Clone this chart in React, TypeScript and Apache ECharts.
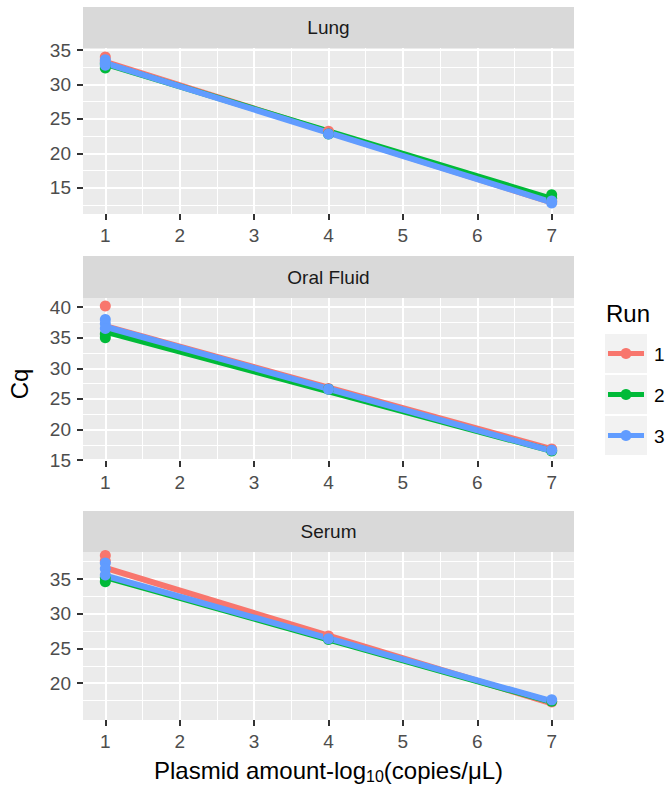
import React, { useEffect, useRef } from "react";
import * as echarts from "echarts";

// ---- data ----
const panelNames = ["Lung", "Oral Fluid", "Serum"];
const runNames = ["1", "2", "3"];
const runColors = ["#F8766D", "#00BA38", "#619CFF"];

const xBreaks = [1, 2, 3, 4, 5, 6, 7];
const xMinor = [1.5, 2.5, 3.5, 4.5, 5.5, 6.5];

const lungYBreaks = [15, 20, 25, 30, 35];
const lungYMinor = [12.5, 17.5, 22.5, 27.5, 32.5];
const oralYBreaks = [15, 20, 25, 30, 35, 40];
const oralYMinor = [17.5, 22.5, 27.5, 32.5, 37.5];
const serumYBreaks = [20, 25, 30, 35];
const serumYMinor = [17.5, 22.5, 27.5, 32.5, 37.5];

// points [log10 amount, Cq]
const lungRun1 = [[1, 34.0], [1, 33.4], [4, 23.2], [7, 13.0]];
const lungRun2 = [[1, 32.4], [1, 33.0], [4, 22.8], [7, 14.0], [7, 13.5]];
const lungRun3 = [[1, 33.6], [1, 32.8], [1, 33.2], [4, 22.8], [7, 12.8], [7, 13.1]];
const lungFit1 = [[1, 33.3], [7, 12.9]];
const lungFit2 = [[1, 33.0], [7, 13.4]];
const lungFit3 = [[1, 33.1], [7, 12.9]];

const oralRun1 = [[1, 40.2], [4, 26.7], [7, 16.8]];
const oralRun2 = [[1, 35.0], [1, 35.6], [4, 26.6], [7, 16.5]];
const oralRun3 = [[1, 38.0], [1, 37.3], [1, 36.5], [4, 26.6], [7, 16.6]];
const oralFit1 = [[1, 36.9], [7, 16.8]];
const oralFit2 = [[1, 36.0], [7, 16.5]];
const oralFit3 = [[1, 36.8], [7, 16.5]];

const serumRun1 = [[1, 38.4], [1, 37.6], [4, 26.8], [7, 17.3]];
const serumRun2 = [[1, 34.6], [1, 35.2], [4, 26.3], [7, 17.4]];
const serumRun3 = [[1, 37.3], [1, 36.5], [1, 35.6], [4, 26.4], [7, 17.6]];
const serumFit1 = [[1, 36.6], [7, 17.1]];
const serumFit2 = [[1, 35.3], [7, 17.3]];
const serumFit3 = [[1, 35.5], [7, 17.4]];

const xRange = [0.7, 7.3];
const lungYRange = [11.2, 35.3];
const oralYRange = [14.85, 41.5];
const serumYRange = [14.7, 38.9];

// ---- layout ----
const FONT = "Liberation Sans, Arial, Helvetica, sans-serif";
const GRID_LEFT = 83;
const GRID_WIDTH = 491;
const panelsLayout = [
  { stripTop: 7, top: 48, height: 166 },
  { stripTop: 256, top: 298, height: 163 },
  { stripTop: 511, top: 552, height: 168 },
];

export default function App() {
  const ref = useRef<HTMLDivElement>(null);

  useEffect(() => {
    if (!ref.current) return;
    const chart = echarts.init(ref.current, null, { renderer: "svg" });

    const points = [
      [lungRun1, lungRun2, lungRun3],
      [oralRun1, oralRun2, oralRun3],
      [serumRun1, serumRun2, serumRun3],
    ];
    const fits = [
      [lungFit1, lungFit2, lungFit3],
      [oralFit1, oralFit2, oralFit3],
      [serumFit1, serumFit2, serumFit3],
    ];
    const yBreaks = [lungYBreaks, oralYBreaks, serumYBreaks];
    const yMinor = [lungYMinor, oralYMinor, serumYMinor];
    const yRanges = [lungYRange, oralYRange, serumYRange];

    const grids: any[] = [];
    const xAxes: any[] = [];
    const yAxes: any[] = [];
    const series: any[] = [];
    const graphics: any[] = [];

    panelsLayout.forEach((p, i) => {
      grids.push({
        left: GRID_LEFT,
        top: p.top,
        width: GRID_WIDTH,
        height: p.height,
        show: true,
        backgroundColor: "#EBEBEB",
        borderWidth: 0,
      });
      // minor axes (index 2i), major axes (index 2i+1)
      xAxes.push({
        type: "value",
        gridIndex: i,
        position: "bottom",
        offset: 0,
        min: xRange[0],
        max: xRange[1],
        axisLine: { show: false },
        axisTick: { show: false, customValues: xMinor },
        axisLabel: { show: false, customValues: xMinor },
        splitLine: { show: true, lineStyle: { color: "#FFFFFF", width: 1 } },
      });
      xAxes.push({
        type: "value",
        gridIndex: i,
        position: "bottom",
        offset: 0,
        min: xRange[0],
        max: xRange[1],
        axisLine: { show: false },
        axisTick: {
          show: true,
          customValues: xBreaks,
          length: 6,
          lineStyle: { color: "#333333", width: 2 },
        },
        axisLabel: {
          show: true,
          customValues: xBreaks,
          color: "#4D4D4D",
          fontSize: 19,
          fontFamily: FONT,
          margin: 12,
        },
        splitLine: { show: true, lineStyle: { color: "#FFFFFF", width: 2 } },
      });
      yAxes.push({
        type: "value",
        gridIndex: i,
        position: "left",
        offset: 0,
        min: yRanges[i][0],
        max: yRanges[i][1],
        axisLine: { show: false },
        axisTick: { show: false, customValues: yMinor[i] },
        axisLabel: { show: false, customValues: yMinor[i] },
        splitLine: { show: true, lineStyle: { color: "#FFFFFF", width: 1 } },
      });
      yAxes.push({
        type: "value",
        gridIndex: i,
        position: "left",
        offset: 0,
        min: yRanges[i][0],
        max: yRanges[i][1],
        axisLine: { show: false },
        axisTick: {
          show: true,
          customValues: yBreaks[i],
          length: 6,
          lineStyle: { color: "#333333", width: 2 },
        },
        axisLabel: {
          show: true,
          customValues: yBreaks[i],
          color: "#4D4D4D",
          fontSize: 19,
          fontFamily: FONT,
          margin: 12,
        },
        splitLine: { show: true, lineStyle: { color: "#FFFFFF", width: 2 } },
      });

      for (let r = 0; r < 3; r++) {
        series.push({
          type: "scatter",
          xAxisIndex: 2 * i + 1,
          yAxisIndex: 2 * i + 1,
          data: points[i][r],
          symbol: "circle",
          symbolSize: 11,
          itemStyle: { color: runColors[r], opacity: 1 },
          z: 3,
        });
        series.push({
          type: "line",
          xAxisIndex: 2 * i + 1,
          yAxisIndex: 2 * i + 1,
          data: fits[i][r],
          showSymbol: false,
          symbol: "none",
          lineStyle: { color: runColors[r], width: 6, cap: "round" },
          z: 3,
        });
      }

      // strip
      const stripH = p.top - p.stripTop;
      graphics.push({
        type: "rect",
        shape: { x: GRID_LEFT, y: p.stripTop, width: GRID_WIDTH, height: stripH },
        style: { fill: "#D9D9D9" },
      });
      graphics.push({
        type: "text",
        x: GRID_LEFT + GRID_WIDTH / 2,
        y: p.stripTop + stripH / 2,
        style: {
          text: panelNames[i],
          fill: "#1A1A1A",
          fontSize: 19,
          fontFamily: FONT,
          align: "center",
          verticalAlign: "middle",
        },
      });
    });

    // axis titles
    graphics.push({
      type: "text",
      x: 19,
      y: 384,
      rotation: Math.PI / 2,
      style: {
        text: "Cq",
        fill: "#000000",
        fontSize: 24,
        fontFamily: FONT,
        align: "center",
        verticalAlign: "middle",
      },
    });
    graphics.push({
      type: "text",
      x: GRID_LEFT + GRID_WIDTH / 2,
      y: 770,
      style: {
        text: "Plasmid amount-log{sub|10}(copies/μL)",
        fill: "#000000",
        fontSize: 24,
        fontFamily: FONT,
        align: "center",
        verticalAlign: "middle",
        rich: {
          sub: { fontSize: 16, fontFamily: FONT, fill: "#000000", padding: [13, 0, 0, 0] },
        },
      },
    });

    // legend
    graphics.push({
      type: "text",
      x: 606,
      y: 313,
      style: {
        text: "Run",
        fill: "#000000",
        fontSize: 24,
        fontFamily: FONT,
        align: "left",
        verticalAlign: "middle",
      },
    });
    runNames.forEach((name, r) => {
      const top = 334 + r * 41;
      graphics.push({
        type: "rect",
        shape: { x: 605, y: top, width: 42, height: 39 },
        style: { fill: "#F2F2F2" },
      });
      graphics.push({
        type: "line",
        shape: { x1: 608, y1: top + 19.5, x2: 644, y2: top + 19.5 },
        style: { stroke: runColors[r], lineWidth: 5 },
      });
      graphics.push({
        type: "circle",
        shape: { cx: 626, cy: top + 19.5, r: 5.5 },
        style: { fill: runColors[r] },
      });
      graphics.push({
        type: "text",
        x: 654,
        y: top + 20,
        style: {
          text: name,
          fill: "#000000",
          fontSize: 19,
          fontFamily: FONT,
          align: "left",
          verticalAlign: "middle",
        },
      });
    });

    chart.setOption({
      animation: false,
      backgroundColor: "#FFFFFF",
      grid: grids,
      xAxis: xAxes,
      yAxis: yAxes,
      series,
      graphic: { elements: graphics },
    });

    return () => chart.dispose();
  }, []);

  return <div ref={ref} style={{ width: 669, height: 788, position: "absolute", left: 0, top: 0 }} />;
}
